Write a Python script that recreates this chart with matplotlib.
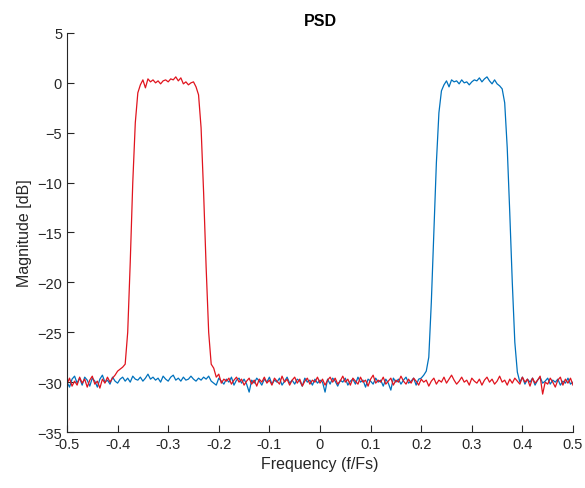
import numpy as np
import matplotlib.pyplot as plt

# eje de frecuencia normalizada (f/Fs), 201 puntos
freq = np.linspace(-0.5, 0.5, 201)

# PSD, canal rojo (banda negativa)
psd_red = [
    -30.2, -29.6, -30.4, -29.9, -30.3, -29.5, -30.1, -29.7, -30.5, -29.8,
    -29.4, -30.2, -29.9, -30.6, -29.7, -30.1, -29.5, -30.0, -29.6, -29.3,
    -28.9, -28.7, -28.5, -28.2, -25.0, -18.0, -10.0, -4.0, -1.0, -0.2,
    0.3, -0.5, 0.4, 0.1, 0.3, 0.0, 0.2, -0.1, 0.2, 0.3,
    0.1, 0.4, 0.3, 0.6, 0.2, 0.5, -0.1, 0.1, -0.2, 0.0,
    0.1, -0.4, -1.2, -4.5, -11.0, -18.5, -25.0, -28.2, -28.6, -29.5,
    -29.2, -30.1, -29.7, -29.9, -29.6, -30.2, -29.8, -29.5, -30.0, -29.7,
    -30.3, -29.9, -29.6, -30.2, -29.8, -30.4, -29.7, -30.0, -29.5, -30.1,
    -29.8, -30.3, -29.6, -29.9, -30.2, -29.4, -30.0, -29.7, -30.3, -29.8,
    -29.5, -30.1, -29.7, -30.4, -29.9, -29.6, -30.2, -29.8, -30.0, -29.5,
    -30.1, -29.7, -30.3, -29.8, -29.5, -30.0, -29.6, -30.2, -29.9, -29.4,
    -30.0, -29.7, -30.3, -29.6, -29.9, -30.2, -29.5, -30.0, -29.8, -30.4,
    -29.7, -29.3, -30.1, -29.8, -30.0, -29.5, -30.2, -29.9, -29.6, -30.3,
    -29.8, -30.0, -29.4, -29.9, -30.2, -29.7, -30.1, -29.6, -29.9, -30.3,
    -29.7, -30.0, -29.8, -30.4, -29.9, -29.6, -30.2, -29.8, -30.0, -29.5,
    -30.1, -29.7, -29.3, -29.8, -30.2, -29.9, -29.5, -30.0, -29.8, -30.3,
    -29.6, -29.9, -30.1, -29.7, -30.3, -29.8, -29.5, -30.0, -29.7, -30.2,
    -29.9, -29.4, -30.0, -29.8, -30.3, -29.7, -30.1, -29.6, -29.9, -30.2,
    -29.5, -30.0, -29.7, -30.4, -29.6, -30.1, -29.8, -29.4, -31.2, -30.0,
    -30.2, -29.6, -30.0, -30.5, -29.8, -29.5, -30.3, -29.7, -30.1, -29.6,
    -30.3,
]

# canal azul (banda positiva)
psd_blue = [
    -30.0, -30.5, -29.7, -29.4, -30.1, -29.6, -30.3, -29.5, -29.8, -30.4,
    -29.6, -29.9, -30.5, -29.7, -29.3, -30.0, -29.8, -30.2, -29.5, -29.9,
    -30.1, -29.7, -29.5, -29.9, -29.6, -30.0, -29.4, -29.7, -29.8, -29.5,
    -29.9, -29.6, -29.2, -29.7, -29.5, -29.8, -29.6, -30.0, -29.4, -29.7,
    -29.9, -29.5, -29.3, -29.8, -29.6, -29.9, -29.5, -29.8, -29.7, -29.4,
    -29.7, -29.9, -29.6, -29.8, -29.5, -29.7, -29.4, -29.9, -30.1, -30.3,
    -29.6, -29.9, -30.2, -29.7, -30.0, -29.5, -30.3, -29.8, -29.6, -30.1,
    -29.7, -30.2, -31.0, -29.8, -30.1, -29.6, -29.9, -30.3, -29.7, -30.0,
    -29.5, -30.2, -29.8, -30.0, -29.6, -30.3, -29.9, -29.5, -30.1, -29.8,
    -30.2, -29.7, -29.9, -30.4, -29.6, -30.0, -29.8, -30.3, -29.7, -30.1,
    -29.8, -30.0, -31.0, -29.7, -30.2, -29.6, -29.9, -30.4, -29.8, -30.0,
    -29.6, -30.3, -29.9, -29.7, -30.2, -29.5, -30.0, -29.8, -30.5, -29.7,
    -29.9, -30.2, -29.6, -30.0, -29.8, -30.4, -29.7, -30.1, -30.8, -29.6,
    -30.0, -29.7, -30.2, -29.8, -29.5, -30.1, -29.9, -29.6, -30.3, -29.7,
    -29.6, -29.3, -28.9, -27.5, -22.0, -15.0, -8.0, -3.0, -0.8, -0.2,
    0.2, -0.4, 0.3, 0.1, 0.2, -0.1, 0.3, 0.0, 0.1, -0.2,
    0.1, 0.3, 0.2, 0.5, 0.1, 0.4, 0.6, 0.2, -0.1, 0.3,
    -0.1, -0.3, -0.6, -2.0, -6.5, -13.0, -20.0, -26.0, -29.0, -30.0,
    -29.5, -30.2, -29.7, -30.0, -29.6, -30.3, -29.8, -29.5, -30.1, -29.9,
    -29.6, -30.2, -29.8, -30.0, -29.7, -30.3, -29.9, -30.1, -29.6, -30.2,
    -30.0,
]

x_ticks = [-0.5, -0.4, -0.3, -0.2, -0.1, 0, 0.1, 0.2, 0.3, 0.4, 0.5]
x_labels = ['-0.5', '-0.4', '-0.3', '-0.2', '-0.1', '0', '0.1', '0.2', '0.3', '0.4', '0.5']
y_ticks = [-35, -30, -25, -20, -15, -10, -5, 0, 5]

plt.rcParams['font.family'] = ['Liberation Sans', 'DejaVu Sans']

fig = plt.figure(figsize=(5.85, 4.89), dpi=100)
ax = fig.add_axes([0.1145, 0.1145, 0.865, 0.816])

ax.plot(freq, psd_blue, c='#0072BD', lw=0.9)
ax.plot(freq, psd_red, c='#E0141E', lw=0.9)

ax.set_xlim(-0.5, 0.5)
ax.set_ylim(-35, 5)
ax.set_xticks(x_ticks)
ax.set_xticklabels(x_labels)
ax.set_yticks(y_ticks)

ax.spines['top'].set_visible(False)
ax.spines['right'].set_visible(False)
for s in ['left', 'bottom']:
    ax.spines[s].set_color('#262626')
    ax.spines[s].set_linewidth(0.8)
ax.tick_params(direction='in', length=5, width=0.8, colors='#262626',
               labelsize=10.5, labelcolor='#262626')

ax.set_xlabel('Frequency (f/Fs)', fontsize=11.5, color='#262626')
ax.set_ylabel('Magnitude [dB]', fontsize=11.5, color='#262626')
ax.set_title('PSD', fontsize=11.5, fontweight='bold', color='black')

fig.savefig('out.png', dpi=100)
